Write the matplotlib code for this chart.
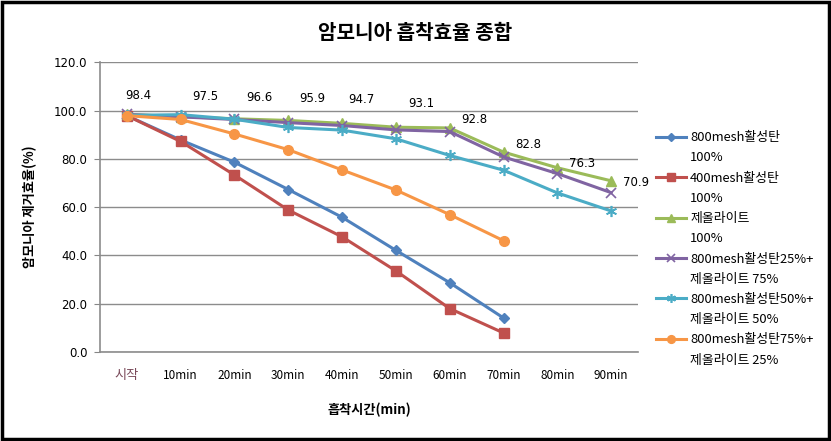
import matplotlib
matplotlib.use("Agg")
import matplotlib.pyplot as plt
from matplotlib.lines import Line2D
from matplotlib.patches import Rectangle

plt.rcParams['font.family'] = ['Noto Sans CJK KR', 'DejaVu Sans']

categories = ['시작', '10min', '20min', '30min', '40min', '50min', '60min', '70min', '80min', '90min']

s_800 = [97.9, 87.8, 78.6, 67.3, 55.8, 42.1, 28.7, 14.1]
s_400 = [97.9, 87.2, 73.3, 58.8, 47.7, 33.6, 18.0, 7.9]
s_zeo = [98.4, 97.5, 96.6, 95.9, 94.7, 93.1, 92.8, 82.8, 76.3, 70.9]
s_25 = [98.4, 97.4, 96.3, 95.0, 93.8, 92.0, 91.3, 80.8, 73.9, 66.0]
s_50 = [98.0, 98.3, 96.4, 93.0, 91.9, 88.3, 81.4, 75.3, 65.9, 58.4]
s_75 = [97.9, 96.3, 90.3, 83.8, 75.4, 67.1, 56.9, 46.1]

names = ['800mesh활성탄', '400mesh활성탄', '제올라이트',
         '800mesh활성탄25%+', '800mesh활성탄50%+', '800mesh활성탄75%+']
names2 = ['100%', '100%', '100%', '제올라이트 75%', '제올라이트 50%', '제올라이트 25%']

yticks = [0, 20, 40, 60, 80, 100, 120]

# label placement offsets (style only): data units above point, points to the right
label_dy = [7.7, 8.2, 8.8, 9.2, 9.7, 9.8, 3.6, 3.1, 1.9, -0.5]
label_dx = [8.5, 18, 18, 17, 14, 18, 18, 18, 18, 18]

colors = ['#4F81BD', '#C0504D', '#9BBB59', '#8064A2', '#4BACC6', '#F79646']
markers = ['D', 's', '^', 'x', (6, 2, 0), 'o']
msizes = [5, 7, 7, 7, 8, 7]

fig = plt.figure(figsize=(8.31, 4.41), dpi=100)
ax = fig.add_axes([0.1203, 0.2018, 0.6475, 0.657])

series = [s_800, s_400, s_zeo, s_25, s_50, s_75]
handles = []
for vals, c, m, ms, nm in zip(series, colors, markers, msizes, names):
    x = list(range(len(vals)))
    mew = 1.2 if m in ('x',) or isinstance(m, tuple) else 1
    ln, = ax.plot(x, vals, color=c, lw=2.2, marker=m, markersize=ms,
                  markeredgecolor=c, markerfacecolor=c, markeredgewidth=mew, zorder=3)
    handles.append(ln)

for i, v in enumerate(s_zeo):
    ax.annotate(f'{v:.1f}', xy=(i, v + label_dy[i]), xytext=(label_dx[i], 0),
                textcoords='offset points', ha='center', va='center',
                fontsize=8.5, family=['DejaVu Sans'])

ax.set_xlim(-0.5, len(categories) - 0.5)
ax.set_ylim(0, 120)
ax.set_yticks(yticks)
ax.set_yticklabels([f'{t:.1f}' for t in yticks], fontsize=8.5, family=['DejaVu Sans'])
ax.set_xticks(range(len(categories)))
ax.set_xticklabels(categories, fontsize=8.5)
ax.get_xticklabels()[0].set_color('#7a4a5a')
ax.get_xticklabels()[0].set_fontsize(9.5)
ax.tick_params(axis='x', length=0, pad=12)
ax.tick_params(axis='y', length=4, color='#868686', pad=5)
ax.grid(axis='y', color='#8c8c8c', lw=1)
ax.set_axisbelow(True)
for s in ['top', 'right']:
    ax.spines[s].set_visible(False)
for s in ['left', 'bottom']:
    ax.spines[s].set_color('#8c8c8c')
    ax.spines[s].set_linewidth(1.2)

ax.set_xlabel('흡착시간(min)', fontsize=9.5, fontweight='bold', labelpad=15)
ax.set_ylabel('암모니아 제거효율(%)', fontsize=9.5, fontweight='bold', labelpad=12)
fig.text(0.5, 0.927, '암모니아 흡착효율 종합', ha='center', va='center',
         fontsize=14.5, fontweight='bold')

leg_handles = []
leg_labels = []
for h, n1, n2 in zip(handles, names, names2):
    leg_handles.append(h)
    leg_labels.append(n1)
    leg_handles.append(Line2D([], [], linestyle='none'))
    leg_labels.append(n2)
fig.legend(leg_handles, leg_labels, loc='upper left', bbox_to_anchor=(0.776, 0.729),
           frameon=False, fontsize=9.3, labelspacing=0.56, handlelength=2.3,
           handletextpad=0.3, markerscale=0.8)

fig.patches.append(Rectangle((0.003, 0.005), 0.994, 0.99, transform=fig.transFigure,
                             fill=False, edgecolor='black', lw=2.5))

fig.savefig('out.png', dpi=100)
